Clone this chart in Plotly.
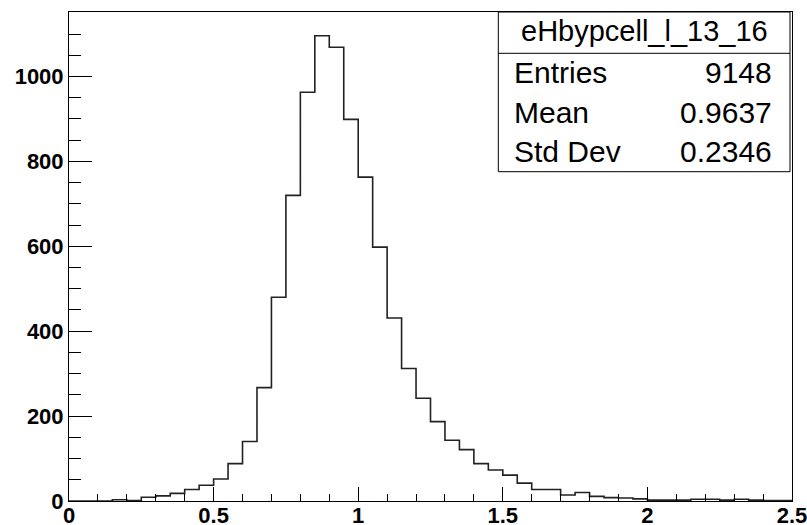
import plotly.graph_objects as go

# Histogram: 50 bins from 0 to 2.5
bin_low = 0.0
bin_width = 0.05
counts = [0, 0, 0, 3, 1, 9, 12, 18, 27, 37,
          52, 88, 140, 267, 480, 720, 963, 1096, 1069, 899,
          763, 598, 431, 312, 242, 187, 143, 121, 88, 73,
          61, 42, 27, 27, 14, 20, 11, 8, 7, 5,
          2, 2, 2, 4, 4, 2, 4, 2, 1, 1]
hist_name = "eHbypcell_l_13_16"
stat_labels = ["Entries", "Mean", "Std Dev"]
stat_values = ["9148", "0.9637", "0.2346"]
x_ticks = [0, 0.5, 1, 1.5, 2, 2.5]
x_tick_text = ["0", "0.5", "1", "1.5", "2", "2.5"]
y_ticks = [0, 200, 400, 600, 800, 1000]
y_tick_text = ["0", "200", "400", "600", "800", "1000"]

edges = [bin_low + i * bin_width for i in range(len(counts) + 1)]
xs = edges
ys = counts + [counts[-1]]

W, H = 807, 525
L, R, T, B = 69, 15, 12, 24
pw, ph = W - L - R, H - T - B


def px(xp):
    return (xp - L) / pw


def py(yp):
    return (H - B - yp) / ph


fig = go.Figure()
fig.add_trace(go.Scatter(x=xs, y=ys, mode="lines", line=dict(shape="hv", color="#222222", width=1.6),
                         hoverinfo="skip", showlegend=False))

tickfont = dict(family="Liberation Sans, Arial, sans-serif", size=22, color="black", weight="bold")
fig.update_layout(
    width=W, height=H,
    margin=dict(l=L, r=R, t=T, b=B, autoexpand=False),
    paper_bgcolor="white", plot_bgcolor="white",
    showlegend=False,
    xaxis=dict(range=[0, 2.5], tickvals=x_ticks, ticktext=x_tick_text, ticks="inside", ticklen=14,
               tickcolor="black", tickwidth=1, showline=True, linecolor="black", linewidth=1, mirror=True,
               showgrid=False, zeroline=False, tickfont=tickfont, automargin=False,
               ticklabeloverflow="allow", ticklabelstandoff=-5,
               minor=dict(ticks="inside", ticklen=7, dtick=0.1, tick0=0, tickcolor="black", showgrid=False)),
    yaxis=dict(range=[0, 1152], tickvals=y_ticks, ticktext=y_tick_text, ticks="inside", ticklen=23,
               tickcolor="black", tickwidth=1, showline=True, linecolor="black", linewidth=1, mirror=True,
               showgrid=False, zeroline=False, tickfont=tickfont, automargin=False,
               ticklabeloverflow="allow",
               minor=dict(ticks="inside", ticklen=12, dtick=50, tick0=0, tickcolor="black", showgrid=False)),
)

# Stats box
bx0, bx1, by0, by1, bsep = 498.3, 790.0, 12.0, 171.7, 53.3
fig.add_shape(type="rect", xref="paper", yref="paper", x0=px(bx0), x1=px(bx1), y0=py(by1), y1=py(by0),
              line=dict(color="black", width=1), fillcolor="white", layer="above")
fig.add_shape(type="line", xref="paper", yref="paper", x0=px(bx0), x1=px(bx1), y0=py(bsep), y1=py(bsep),
              line=dict(color="black", width=1), layer="above")

titlefont = dict(family="Liberation Sans, Arial, sans-serif", size=29, color="black")
statfont = dict(family="Liberation Sans, Arial, sans-serif", size=30, color="black")
fig.add_annotation(text=hist_name, xref="paper", yref="paper", x=px((bx0 + bx1) / 2), y=py(31),
                   xanchor="center", yanchor="middle", showarrow=False, font=titlefont)
row_centers = [72.5, 112.0, 151.5]
for lab, val, yc in zip(stat_labels, stat_values, row_centers):
    fig.add_annotation(text=lab, xref="paper", yref="paper", x=px(512), y=py(yc),
                       xanchor="left", yanchor="middle", showarrow=False, font=statfont)
    fig.add_annotation(text=val, xref="paper", yref="paper", x=px(774), y=py(yc),
                       xanchor="right", yanchor="middle", showarrow=False, font=statfont)

fig.write_html("out.html", config={"displayModeBar": False, "staticPlot": True})

# remove the default page margin so the figure sits at the window's top-left corner
with open("out.html", "r", encoding="utf-8") as f:
    html = f.read()
html = html.replace("<head>", "<head><style>html,body{margin:0;padding:0;}</style>", 1)
with open("out.html", "w", encoding="utf-8") as f:
    f.write(html)
